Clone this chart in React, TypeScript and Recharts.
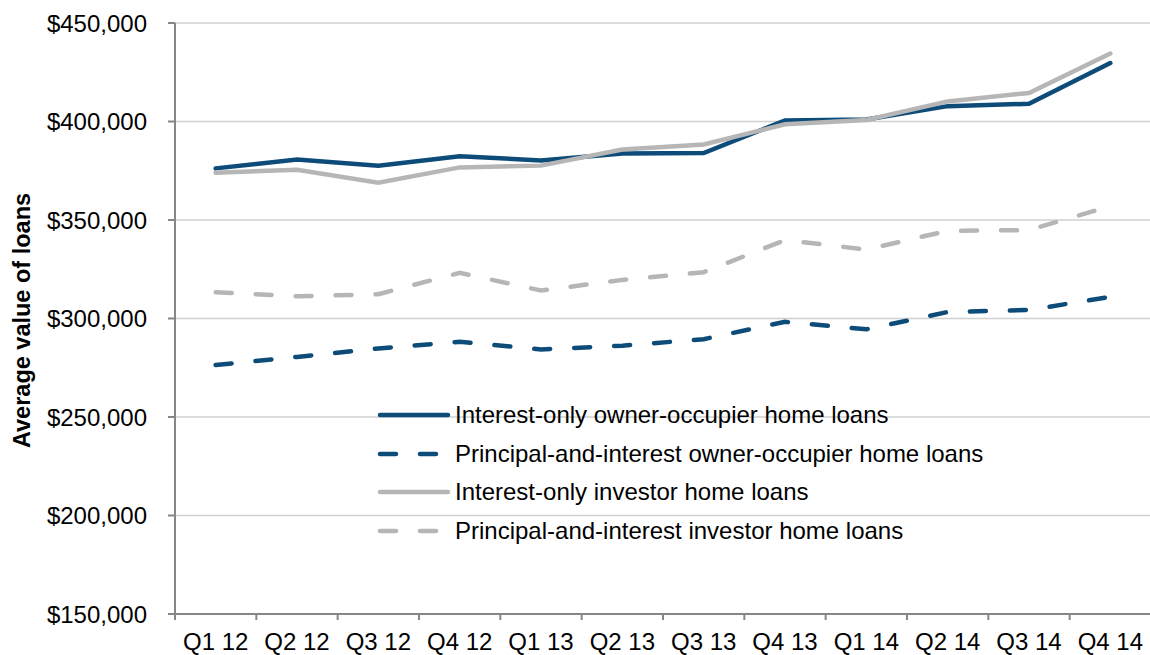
import React from 'react';
import { LineChart, Line, XAxis, YAxis, CartesianGrid } from 'recharts';

// quarters on the x axis
const quarters = ['Q1 12', 'Q2 12', 'Q3 12', 'Q4 12', 'Q1 13', 'Q2 13', 'Q3 13', 'Q4 13', 'Q1 14', 'Q2 14', 'Q3 14', 'Q4 14'];

// average loan values
const ioOwner = [376200, 380700, 377500, 382400, 380200, 383800, 384000, 400500, 401000, 407800, 409000, 429700];
const piOwner = [276400, 280500, 284800, 288200, 284300, 286200, 289500, 298300, 294500, 303300, 304300, 311000];
const ioInvestor = [374000, 375500, 368900, 376700, 377600, 385800, 388300, 398600, 400800, 410200, 414500, 434500];
const piInvestor = [313300, 311300, 312300, 323200, 314200, 319600, 323500, 339800, 335000, 344500, 344900, 357000];

const yTicks = [150000, 200000, 250000, 300000, 350000, 400000, 450000];

const DARK = '#0d4c79';
const GREY = '#b6b6b6';
const AXIS = '#868686';
const FONT = '"Liberation Sans", Arial, sans-serif';

const series = [
  { key: 'ioOwner', name: 'Interest-only owner-occupier home loans', color: DARK, dash: undefined },
  { key: 'piOwner', name: 'Principal-and-interest owner-occupier home loans', color: DARK, dash: '16 24' },
  { key: 'ioInvestor', name: 'Interest-only investor home loans', color: GREY, dash: undefined },
  { key: 'piInvestor', name: 'Principal-and-interest investor home loans', color: GREY, dash: '16 24' },
];

const data = quarters.map((q, i) => ({
  q,
  ioOwner: ioOwner[i],
  piOwner: piOwner[i],
  ioInvestor: ioInvestor[i],
  piInvestor: piInvestor[i],
}));

const CHART_W = 1152;
const CHART_H = 655;
const MARGIN = { top: 23, right: 1, bottom: 1, left: 0 };
const Y_AXIS_W = 175;
const X_AXIS_H = 40;
const BAND = (CHART_W - MARGIN.left - MARGIN.right - Y_AXIS_W) / quarters.length;
const LABEL_GAP = 19;

const QuarterTick = (props: any) => {
  const { x, y, payload, index } = props;
  const axisY = y - LABEL_GAP;
  const left = x - BAND / 2;
  const right = x + BAND / 2;
  return (
    <g>
      <line x1={left} x2={left} y1={axisY} y2={axisY + 6} stroke={AXIS} strokeWidth={2} />
      {index === quarters.length - 1 && (
        <line x1={right} x2={right} y1={axisY} y2={axisY + 6} stroke={AXIS} strokeWidth={2} />
      )}
      <text x={x} y={y} dy="0.71em" textAnchor="middle" fill="#000" fontSize={24} fontFamily={FONT}>
        {payload.value}
      </text>
    </g>
  );
};

// legend drawn as an overlay so it does not shrink the plot
const LegendBox = () => (
  <div style={{ position: 'absolute', left: 376, top: 396, fontFamily: FONT, fontSize: 24, color: '#000' }}>
    {series.map(s => (
      <div key={s.key} style={{ display: 'flex', alignItems: 'center', height: 38.5, whiteSpace: 'nowrap' }}>
        <svg width={79} height={10} style={{ flex: 'none' }}>
          <line x1={4} x2={72} y1={5} y2={5} stroke={s.color} strokeWidth={4.5}
            strokeLinecap="round" strokeDasharray={s.dash} />
        </svg>
        <span>{s.name}</span>
      </div>
    ))}
  </div>
);

const YTitle = (props: any) => {
  const vb = props.viewBox || {};
  const cy = (vb.y || 0) + (vb.height || 0) / 2 + 2;
  return (
    <text transform={`translate(30, ${cy}) rotate(-90)`} textAnchor="middle"
      fontSize={23.5} fontWeight="bold" fontFamily={FONT} fill="#000">
      Average value of loans
    </text>
  );
};

export default function App() {
  return (
    <div style={{ position: 'absolute', left: 0, top: 0, width: 1150, height: 655, overflow: 'hidden', background: '#fff' }}>
      <LineChart width={CHART_W} height={CHART_H} data={data} margin={MARGIN}>
        <CartesianGrid vertical={false} stroke="#d0d0d0" strokeWidth={1.5} />
        <XAxis
          dataKey="q"
          scale="band"
          interval={0}
          height={X_AXIS_H}
          tickSize={0}
          tickMargin={LABEL_GAP}
          tickLine={false}
          axisLine={{ stroke: AXIS, strokeWidth: 2 }}
          tick={<QuarterTick />}
        />
        <YAxis
          width={Y_AXIS_W}
          domain={[150000, 450000]}
          ticks={yTicks}
          interval={0}
          tickSize={7}
          tickMargin={21}
          tickFormatter={(v: number) => '$' + v.toLocaleString('en-US')}
          tick={{ fill: '#000', fontSize: 24, fontFamily: FONT }}
          tickLine={{ stroke: AXIS, strokeWidth: 2 }}
          axisLine={{ stroke: AXIS, strokeWidth: 2 }}
          label={<YTitle />}
        />
        {series.map(s => (
          <Line
            key={s.key}
            dataKey={s.key}
            name={s.name}
            type="linear"
            stroke={s.color}
            strokeWidth={4.5}
            strokeDasharray={s.dash}
            strokeLinecap="round"
            dot={false}
            activeDot={false}
            isAnimationActive={false}
          />
        ))}
      </LineChart>
      <LegendBox />
    </div>
  );
}
